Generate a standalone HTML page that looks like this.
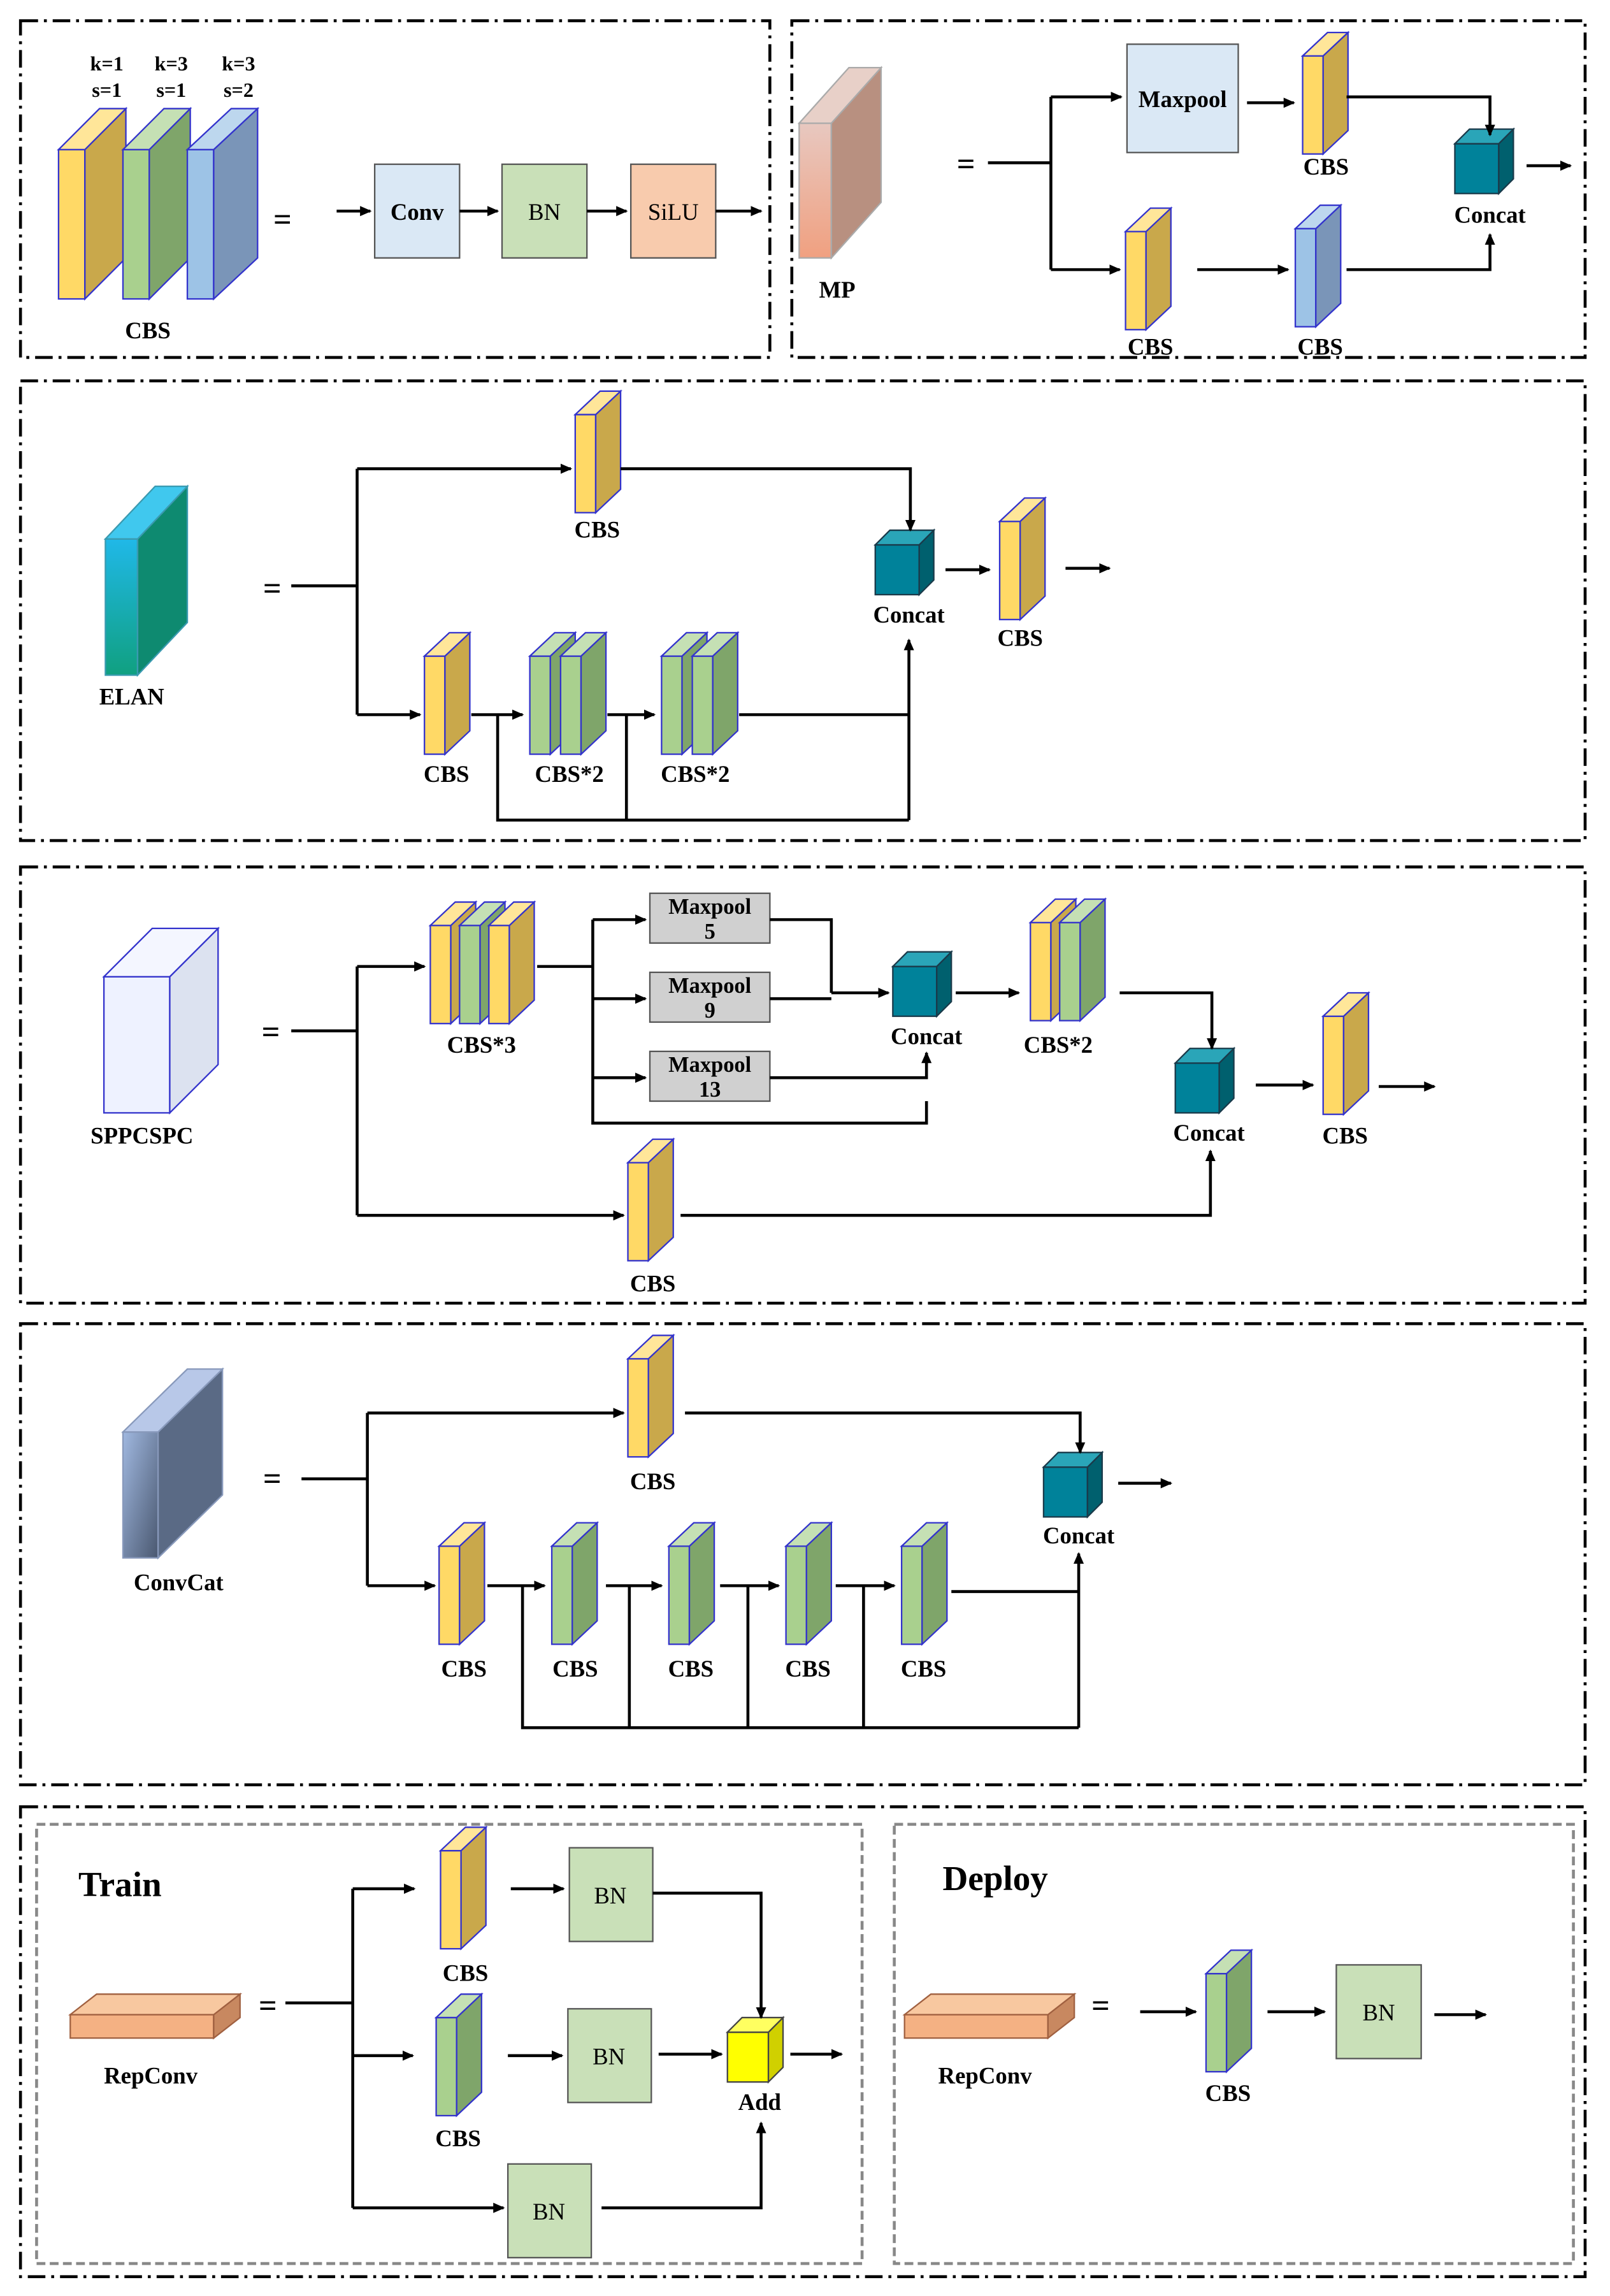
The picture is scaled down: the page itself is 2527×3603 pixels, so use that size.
<!DOCTYPE html>
<html><head><meta charset="utf-8"><style>html,body{margin:0;padding:0;background:#fff}svg{display:block}text{font-family:"Liberation Serif",serif;font-weight:bold;fill:#000}text.n{font-weight:normal}</style></head>
<body>
<svg xmlns="http://www.w3.org/2000/svg" width="2527" height="3603" viewBox="0 0 1100 1568">
<defs>
<marker id="a" markerWidth="8" markerHeight="8" refX="7" refY="4" orient="auto" markerUnits="userSpaceOnUse"><path d="M0,0.5 L8,4 L0,7.5 z" fill="#000"/></marker>
<g id="cy" stroke="#3333cc" stroke-width="1"><rect x="0" y="16" width="14" height="67" fill="#ffd966"/><polygon points="14,16 31,0 31,67 14,83" fill="#c9a84b"/><polygon points="0,16 17,0 31,0 14,16" fill="#ffe699"/></g>
<g id="cg" stroke="#3333cc" stroke-width="1"><rect x="0" y="16" width="14" height="67" fill="#a9d08e"/><polygon points="14,16 31,0 31,67 14,83" fill="#7fa56a"/><polygon points="0,16 17,0 31,0 14,16" fill="#c5e0b4"/></g>
<g id="cb" stroke="#3333cc" stroke-width="1"><rect x="0" y="16" width="14" height="67" fill="#9dc3e6"/><polygon points="14,16 31,0 31,67 14,83" fill="#7a95b8"/><polygon points="0,16 17,0 31,0 14,16" fill="#bdd7ee"/></g>
<g id="cc" stroke="#1a3a4a" stroke-width="1"><rect x="0" y="10" width="30" height="34" fill="#00829a"/><polygon points="30,10 40,0 40,34 30,44" fill="#00606e"/><polygon points="0,10 10,0 40,0 30,10" fill="#2aa5b8"/></g>
<linearGradient id="gmp" x1="0" y1="0" x2="0" y2="1"><stop offset="0" stop-color="#e8c8c0"/><stop offset="1" stop-color="#f0a080"/></linearGradient>
<linearGradient id="gel" x1="0" y1="0" x2="0" y2="1"><stop offset="0" stop-color="#20b8e8"/><stop offset="1" stop-color="#10a080"/></linearGradient>
<linearGradient id="gcc" x1="0" y1="0" x2="1" y2="1"><stop offset="0" stop-color="#a0b8e0"/><stop offset="1" stop-color="#4a5870"/></linearGradient>
</defs>
<g fill="none" stroke="#000" stroke-width="2" stroke-dasharray="12 4 2 4">
<rect x="14" y="14" width="512" height="230"/><rect x="541" y="14" width="542" height="230"/>
<rect x="14" y="260" width="1069" height="314"/><rect x="14" y="592" width="1069" height="298"/>
<rect x="14" y="904" width="1069" height="315"/><rect x="14" y="1234" width="1069" height="321"/>
</g>
<g fill="none" stroke="#888" stroke-width="2" stroke-dasharray="6 3"><rect x="25" y="1246" width="564" height="300"/><rect x="611" y="1246" width="464" height="300"/></g>

<!-- S1a -->
<g stroke="#3333cc" stroke-width="1">
<rect x="40" y="102" width="18" height="102" fill="#ffd966"/><polygon points="58,102 86,74 86,176 58,204" fill="#c9a84b"/><polygon points="40,102 68,74 86,74 58,102" fill="#ffe699"/>
<rect x="84" y="102" width="18" height="102" fill="#a9d08e"/><polygon points="102,102 130,74 130,176 102,204" fill="#7fa56a"/><polygon points="84,102 112,74 130,74 102,102" fill="#c5e0b4"/>
<rect x="128" y="102" width="18" height="102" fill="#9dc3e6"/><polygon points="146,102 176,74 176,176 146,204" fill="#7a95b8"/><polygon points="128,102 158,74 176,74 146,102" fill="#bdd7ee"/>
</g>
<g font-size="14" text-anchor="middle"><text x="73" y="48">k=1</text><text x="73" y="66">s=1</text><text x="117" y="48">k=3</text><text x="117" y="66">s=1</text><text x="163" y="48">k=3</text><text x="163" y="66">s=2</text></g>
<g font-size="16" text-anchor="middle">
<text x="101" y="231">CBS</text><text x="193" y="157" font-size="22">=</text>
</g>
<g stroke="#555" stroke-width="1"><rect x="256" y="112" width="58" height="64" fill="#dae8f5"/><rect x="343" y="112" width="58" height="64" fill="#c9e0b8"/><rect x="431" y="112" width="58" height="64" fill="#f8cbad"/></g>
<g font-size="16" text-anchor="middle"><text x="285" y="150">Conv</text><text x="372" y="150" class="n">BN</text><text x="460" y="150" class="n">SiLU</text></g>
<g stroke="#000" stroke-width="2" fill="none" marker-end="url(#a)"><line x1="230" y1="144" x2="253" y2="144"/><line x1="314" y1="144" x2="340" y2="144"/><line x1="401" y1="144" x2="428" y2="144"/><line x1="489" y1="144" x2="520" y2="144"/></g>

<!-- S1b -->
<g stroke="#aaa" stroke-width="1"><rect x="546" y="84" width="22" height="92" fill="url(#gmp)"/><polygon points="568,84 602,46 602,138 568,176" fill="#b89080"/><polygon points="546,84 580,46 602,46 568,84" fill="#e8d0c8"/></g>
<text x="572" y="203" font-size="16" text-anchor="middle">MP</text><text x="660" y="119" font-size="22" text-anchor="middle">=</text>
<rect x="770" y="30" width="76" height="74" fill="#dae8f5" stroke="#555"/><text x="808" y="73" font-size="16" text-anchor="middle">Maxpool</text>
<use href="#cy" x="890" y="22"/><text x="906" y="119" font-size="16" text-anchor="middle">CBS</text>
<use href="#cc" x="994" y="88"/><text x="1018" y="152" font-size="16" text-anchor="middle">Concat</text>
<use href="#cy" x="769" y="142"/><text x="786" y="242" font-size="16" text-anchor="middle">CBS</text>
<use href="#cb" x="885" y="140"/><text x="902" y="242" font-size="16" text-anchor="middle">CBS</text>
<g stroke="#000" stroke-width="2" fill="none">
<polyline points="675,111 718,111"/><line x1="718" y1="66" x2="718" y2="184"/>
<g marker-end="url(#a)"><line x1="718" y1="66" x2="766" y2="66"/><line x1="718" y1="184" x2="765" y2="184"/><line x1="852" y1="70" x2="884" y2="70"/><polyline points="920,66 1018,66 1018,92"/><line x1="1043" y1="113" x2="1073" y2="113"/><line x1="818" y1="184" x2="880" y2="184"/><polyline points="920,184 1018,184 1018,160"/></g>
</g>

<!-- S2 ELAN -->
<g stroke="#3a9ab0" stroke-width="1"><rect x="72" y="368" width="22" height="93" fill="url(#gel)"/><polygon points="94,368 128,332 128,425 94,461" fill="#0e8a70"/><polygon points="72,368 106,332 128,332 94,368" fill="#40c8ee"/></g>
<text x="90" y="481" font-size="16" text-anchor="middle">ELAN</text><text x="186" y="409" font-size="22" text-anchor="middle">=</text>
<use href="#cy" x="393" y="267"/><text x="408" y="367" font-size="16" text-anchor="middle">CBS</text>
<use href="#cc" x="598" y="362"/><text x="621" y="425" font-size="16" text-anchor="middle">Concat</text>
<use href="#cy" x="683" y="340"/><text x="697" y="441" font-size="16" text-anchor="middle">CBS</text>
<use href="#cy" x="290" y="432"/><text x="305" y="534" font-size="16" text-anchor="middle">CBS</text>
<use href="#cg" x="362" y="432"/><use href="#cg" x="383" y="432"/><text x="389" y="534" font-size="16" text-anchor="middle">CBS*2</text>
<use href="#cg" x="452" y="432"/><use href="#cg" x="473" y="432"/><text x="475" y="534" font-size="16" text-anchor="middle">CBS*2</text>
<g stroke="#000" stroke-width="2" fill="none">
<line x1="199" y1="400" x2="244" y2="400"/><line x1="244" y1="320" x2="244" y2="488"/>
<polyline points="340,488 340,560 621,560"/><line x1="428" y1="488" x2="428" y2="560"/>
<polyline points="505,488 621,488"/>
<g marker-end="url(#a)"><line x1="244" y1="320" x2="390" y2="320"/><polyline points="424,320 622,320 622,362"/><line x1="646" y1="389" x2="676" y2="389"/><line x1="728" y1="388" x2="758" y2="388"/><line x1="244" y1="488" x2="287" y2="488"/><line x1="322" y1="488" x2="357" y2="488"/><line x1="415" y1="488" x2="447" y2="488"/><line x1="621" y1="560" x2="621" y2="437"/></g>
</g>

<!-- S3 SPPCSPC -->
<g stroke="#3333cc" stroke-width="1"><rect x="71" y="667" width="45" height="93" fill="#eef2ff"/><polygon points="116,667 149,634 149,727 116,760" fill="#dce2f0"/><polygon points="71,667 104,634 149,634 116,667" fill="#f4f6ff"/></g>
<text x="97" y="781" font-size="16" text-anchor="middle">SPPCSPC</text><text x="185" y="712" font-size="22" text-anchor="middle">=</text>
<use href="#cy" x="294" y="616"/><use href="#cg" x="314" y="616"/><use href="#cy" x="334" y="616"/><text x="329" y="719" font-size="16" text-anchor="middle">CBS*3</text>
<g stroke="#555" fill="#d0d0d0"><rect x="444" y="610" width="82" height="34"/><rect x="444" y="664" width="82" height="34"/><rect x="444" y="718" width="82" height="34"/></g>
<g font-size="15" text-anchor="middle"><text x="485" y="624">Maxpool</text><text x="485" y="641">5</text><text x="485" y="678">Maxpool</text><text x="485" y="695">9</text><text x="485" y="732">Maxpool</text><text x="485" y="749">13</text></g>
<use href="#cc" x="610" y="650"/><text x="633" y="713" font-size="16" text-anchor="middle">Concat</text>
<use href="#cy" x="704" y="614"/><use href="#cg" x="724" y="614"/><text x="723" y="719" font-size="16" text-anchor="middle">CBS*2</text>
<use href="#cc" x="803" y="716"/><text x="826" y="779" font-size="16" text-anchor="middle">Concat</text>
<use href="#cy" x="904" y="678"/><text x="919" y="781" font-size="16" text-anchor="middle">CBS</text>
<use href="#cy" x="429" y="778"/><text x="446" y="882" font-size="16" text-anchor="middle">CBS</text>
<g stroke="#000" stroke-width="2" fill="none">
<line x1="199" y1="704" x2="244" y2="704"/><line x1="244" y1="660" x2="244" y2="830"/>
<line x1="367" y1="660" x2="405" y2="660"/><polyline points="405,628 405,767 633,767 633,752"/>
<polyline points="526,628 568,628 568,678"/><line x1="526" y1="682" x2="568" y2="682"/>
<g marker-end="url(#a)"><line x1="244" y1="660" x2="290" y2="660"/><line x1="405" y1="628" x2="441" y2="628"/><line x1="405" y1="682" x2="441" y2="682"/><line x1="405" y1="736" x2="441" y2="736"/><line x1="568" y1="678" x2="607" y2="678"/><polyline points="526,736 633,736 633,719"/><line x1="653" y1="678" x2="696" y2="678"/><polyline points="765,678 828,678 828,716"/><line x1="858" y1="741" x2="897" y2="741"/><line x1="942" y1="742" x2="980" y2="742"/><line x1="244" y1="830" x2="426" y2="830"/><polyline points="465,830 827,830 827,786"/></g>
</g>

<!-- S4 ConvCat -->
<g stroke="#8899bb" stroke-width="1"><rect x="84" y="978" width="24" height="86" fill="url(#gcc)"/><polygon points="108,978 152,935 152,1021 108,1064" fill="#5a6a85"/><polygon points="84,978 128,935 152,935 108,978" fill="#b8c8e8"/></g>
<text x="122" y="1086" font-size="16" text-anchor="middle">ConvCat</text><text x="186" y="1017" font-size="22" text-anchor="middle">=</text>
<use href="#cy" x="429" y="912"/><text x="446" y="1017" font-size="16" text-anchor="middle">CBS</text>
<use href="#cc" x="713" y="992"/><text x="737" y="1054" font-size="16" text-anchor="middle">Concat</text>
<use href="#cy" x="300" y="1040"/><text x="317" y="1145" font-size="16" text-anchor="middle">CBS</text>
<use href="#cg" x="377" y="1040"/><text x="393" y="1145" font-size="16" text-anchor="middle">CBS</text>
<use href="#cg" x="457" y="1040"/><text x="472" y="1145" font-size="16" text-anchor="middle">CBS</text>
<use href="#cg" x="537" y="1040"/><text x="552" y="1145" font-size="16" text-anchor="middle">CBS</text>
<use href="#cg" x="616" y="1040"/><text x="631" y="1145" font-size="16" text-anchor="middle">CBS</text>
<g stroke="#000" stroke-width="2" fill="none">
<line x1="206" y1="1010" x2="251" y2="1010"/><line x1="251" y1="965" x2="251" y2="1083"/>
<polyline points="357,1083 357,1180 737,1180"/><line x1="430" y1="1083" x2="430" y2="1180"/><line x1="511" y1="1083" x2="511" y2="1180"/><line x1="590" y1="1083" x2="590" y2="1180"/>
<line x1="650" y1="1087" x2="737" y2="1087"/>
<g marker-end="url(#a)"><line x1="251" y1="965" x2="426" y2="965"/><polyline points="468,965 738,965 738,992"/><line x1="764" y1="1013" x2="800" y2="1013"/><line x1="251" y1="1083" x2="297" y2="1083"/><line x1="333" y1="1083" x2="372" y2="1083"/><line x1="414" y1="1083" x2="452" y2="1083"/><line x1="492" y1="1083" x2="532" y2="1083"/><line x1="571" y1="1083" x2="611" y2="1083"/><line x1="737" y1="1180" x2="737" y2="1061"/></g>
</g>

<!-- S5 Train -->
<text x="82" y="1295" font-size="24" text-anchor="middle">Train</text>
<g stroke="#a06040" stroke-width="1"><rect x="48" y="1376" width="98" height="16" fill="#f4b183"/><polygon points="146,1376 164,1362 164,1378 146,1392" fill="#c88860"/><polygon points="48,1376 66,1362 164,1362 146,1376" fill="#f8c8a0"/></g>
<text x="103" y="1423" font-size="16" text-anchor="middle">RepConv</text><text x="183" y="1377" font-size="22" text-anchor="middle">=</text>
<use href="#cy" x="301" y="1248"/><text x="318" y="1353" font-size="16" text-anchor="middle">CBS</text>
<use href="#cg" x="298" y="1362"/><text x="313" y="1466" font-size="16" text-anchor="middle">CBS</text>
<g stroke="#555" fill="#c9e0b8"><rect x="389" y="1262" width="57" height="64"/><rect x="388" y="1372" width="57" height="64"/><rect x="347" y="1478" width="57" height="64"/><rect x="913" y="1342" width="58" height="64"/></g>
<g font-size="16" text-anchor="middle"><text x="417" y="1300" class="n">BN</text><text x="416" y="1410" class="n">BN</text><text x="375" y="1516" class="n">BN</text><text x="942" y="1380" class="n">BN</text></g>
<g stroke="#444" stroke-width="1"><rect x="497" y="1388" width="28" height="34" fill="#ffff00"/><polygon points="525,1388 535,1378 535,1412 525,1422" fill="#d0d000"/><polygon points="497,1388 507,1378 535,1378 525,1388" fill="#ffff60"/></g>
<text x="519" y="1441" font-size="16" text-anchor="middle">Add</text>
<g stroke="#000" stroke-width="2" fill="none">
<line x1="195" y1="1368" x2="241" y2="1368"/><line x1="241" y1="1290" x2="241" y2="1508"/>
<g marker-end="url(#a)"><line x1="241" y1="1290" x2="283" y2="1290"/><line x1="241" y1="1404" x2="282" y2="1404"/><line x1="241" y1="1508" x2="344" y2="1508"/><line x1="349" y1="1290" x2="385" y2="1290"/><polyline points="446,1293 520,1293 520,1378"/><line x1="347" y1="1404" x2="384" y2="1404"/><line x1="450" y1="1403" x2="493" y2="1403"/><line x1="540" y1="1403" x2="575" y2="1403"/><polyline points="411,1508 520,1508 520,1450"/></g>
</g>

<!-- S5 Deploy -->
<text x="680" y="1291" font-size="24" text-anchor="middle">Deploy</text>
<g stroke="#a06040" stroke-width="1"><rect x="618" y="1376" width="98" height="16" fill="#f4b183"/><polygon points="716,1376 734,1362 734,1378 716,1392" fill="#c88860"/><polygon points="618,1376 636,1362 734,1362 716,1376" fill="#f8c8a0"/></g>
<text x="673" y="1423" font-size="16" text-anchor="middle">RepConv</text><text x="752" y="1377" font-size="22" text-anchor="middle">=</text>
<use href="#cg" x="824" y="1332"/><text x="839" y="1435" font-size="16" text-anchor="middle">CBS</text>
<g stroke="#000" stroke-width="2" fill="none" marker-end="url(#a)"><line x1="779" y1="1374" x2="817" y2="1374"/><line x1="866" y1="1374" x2="905" y2="1374"/><line x1="980" y1="1376" x2="1015" y2="1376"/></g>
</svg>
</body></html>
